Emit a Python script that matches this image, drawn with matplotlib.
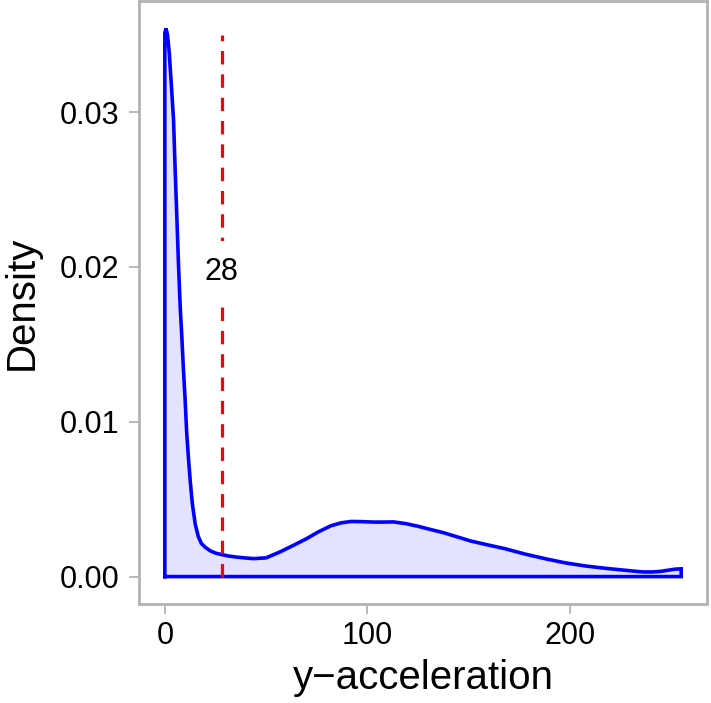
import matplotlib
matplotlib.use("Agg")
import matplotlib.pyplot as plt

plt.rcParams['font.family'] = ['Liberation Sans', 'DejaVu Sans']

# Density curve
x_vals = [0, 0.6, 1.3, 2.2, 3.2, 4.3, 5.1, 6.0, 6.8, 7.6, 8.4, 9.1, 10.0, 10.8, 11.7,
          12.6, 13.6, 15.0, 16.5, 18.0, 19.9, 22.5, 25, 28.1, 31, 34.7, 39, 44, 50, 57,
          64, 70, 76, 82, 87, 92, 97, 103, 108, 113, 119, 125, 131, 138, 145, 151, 159,
          168, 178, 188, 198, 208, 218, 228, 236, 241, 245, 249, 252, 255]
density = [0.0351, 0.0354, 0.0350, 0.0338, 0.0318, 0.0295, 0.0263, 0.0230, 0.0200, 0.0174,
           0.0155, 0.0136, 0.0115, 0.0093, 0.0076, 0.0061, 0.0047, 0.0034, 0.0026, 0.00215,
           0.00190, 0.00166, 0.00152, 0.00142, 0.00134, 0.00127, 0.00121, 0.00116, 0.00121,
           0.00160, 0.00205, 0.00245, 0.00290, 0.00328, 0.00347, 0.00356, 0.00355, 0.00352,
           0.00352, 0.00353, 0.00342, 0.00325, 0.00305, 0.00282, 0.00254, 0.00230, 0.00206,
           0.00180, 0.00145, 0.00115, 0.00088, 0.00068, 0.00053, 0.00040, 0.00030, 0.00030,
           0.00034, 0.00042, 0.00048, 0.00050]
threshold = 28
threshold_label = "28"
xticks = [0, 100, 200]
yticks = [0.00, 0.01, 0.02, 0.03]
ytick_labels = ["0.00", "0.01", "0.02", "0.03"]
xlabel = "y\u2212acceleration"
ylabel = "Density"

fig = plt.figure(figsize=(7.11, 7.03), dpi=100)
ax = fig.add_axes([139/711, 1 - 604/703, (707-139)/711, (603)/703])

border = "#b3b3b3"
px = [x_vals[0]] + x_vals + [x_vals[-1], x_vals[0]]
py = [0] + density + [0, 0]
ax.fill(px, py, facecolor=(0, 0, 1, 0.11), edgecolor="none", zorder=2)
ax.plot(px, py, color="#0000ff", lw=2.6, solid_joinstyle="miter", zorder=3)

ymax = max(density)
ax.plot([threshold, threshold], [0, 0.0350], color="#ff0000", lw=2.3,
        linestyle=(0, (4.2, 3.1)), zorder=4)
ax.text(threshold, 0.0197, threshold_label, ha="center", va="center", fontsize=22,
        color="black", zorder=5,
        bbox=dict(boxstyle="square,pad=0.5", facecolor="white", edgecolor="none"))

xmin, xmax = min(x_vals), max(x_vals)
xr = xmax - xmin
ax.set_xlim(xmin - 0.05 * xr, xmax + 0.05 * xr)
ax.set_ylim(-0.05 * ymax, ymax * 1.05)

ax.set_xticks(xticks)
ax.set_yticks(yticks)
ax.set_yticklabels(ytick_labels)
ax.tick_params(axis="both", length=7, width=1.3, color=border, labelsize=22,
               labelcolor="black")
ax.tick_params(axis="y", pad=7)
ax.tick_params(axis="x", pad=5)
for s in ax.spines.values():
    s.set_color(border)
    s.set_linewidth(2)
ax.set_xlabel(xlabel, fontsize=29, labelpad=6)
ax.set_ylabel(ylabel, fontsize=29, labelpad=14)

fig.savefig("out.png", dpi=100)
